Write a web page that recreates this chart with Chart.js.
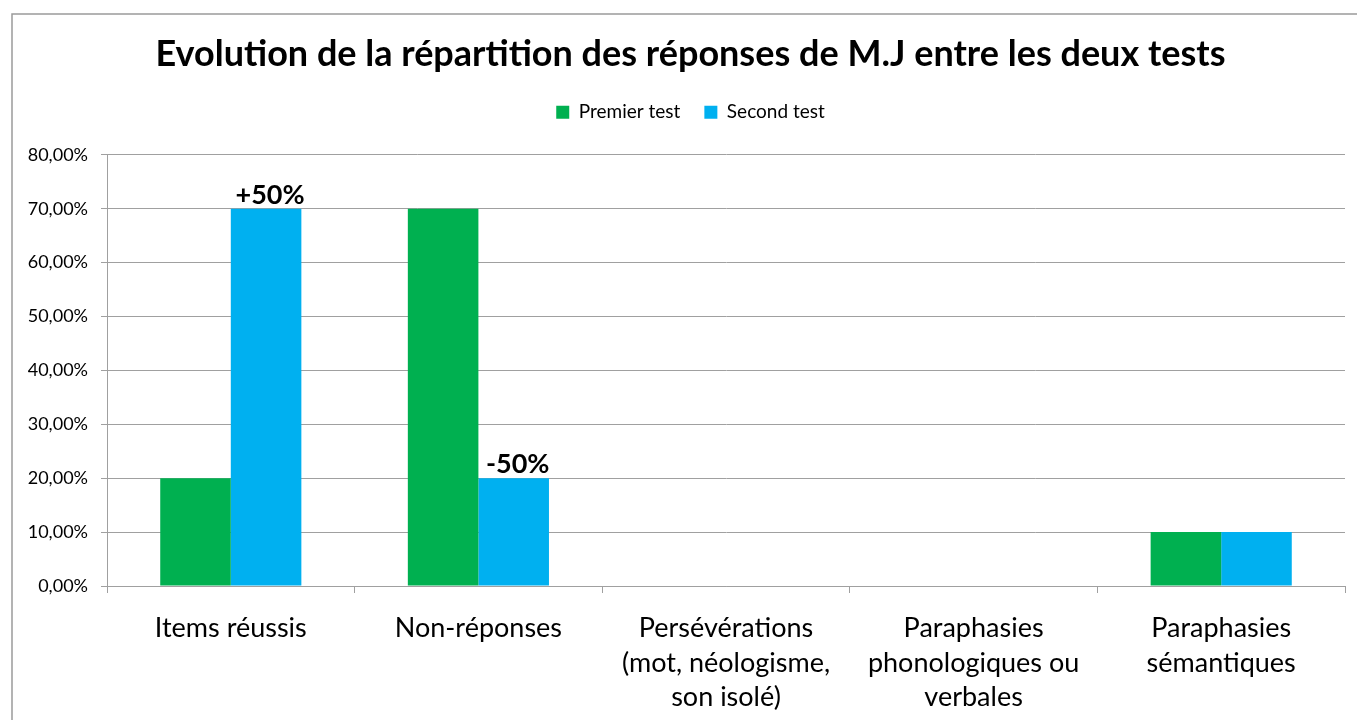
<!DOCTYPE html>
<html lang="fr">
<head>
<meta charset="utf-8">
<title>Evolution de la répartition des réponses de M.J entre les deux tests</title>
<script src="https://cdn.jsdelivr.net/npm/chart.js@4.4.1/dist/chart.umd.min.js"></script>
<style>
  html, body { margin: 0; padding: 0; background: #ffffff; overflow: hidden; }
  #wrap { width: 1357px; height: 720px; position: relative; }
</style>
</head>
<body>
<div id="wrap"><canvas id="chart" width="1357" height="720"></canvas></div>
<script>
// Response categories (multi-line labels under the axis)
const categories = [
  ["Items réussis"],
  ["Non-réponses"],
  ["Persévérations", "(mot, néologisme,", "son isolé)"],
  ["Paraphasies", "phonologiques ou", "verbales"],
  ["Paraphasies", "sémantiques"]
];

// Share of responses, in percent
const premierTest = [20, 70, 0, 0, 10];
const secondTest  = [70, 20, 0, 0, 10];

// Y axis tick values
const yTicks = [0, 10, 20, 30, 40, 50, 60, 70, 80];

const GREEN = '#00B050';
const BLUE = '#00B0F0';
const GRID = '#a0a0a0';
const FONT = 'Lato, "Open Sans", "DejaVu Sans", sans-serif';

// Change between the two tests, written above the second-test bar
const changeLabels = premierTest.map((v, i) => {
  const d = secondTest[i] - v;
  if (d === 0) return '';
  return (d > 0 ? '+' : '') + d + '%';
});

const frenchPercent = v => v.toFixed(2).replace('.', ',') + '%';

// Grey outer frame of the chart
const framePlugin = {
  id: 'frame',
  beforeDraw(chart) {
    const ctx = chart.ctx;
    ctx.save();
    ctx.fillStyle = '#ffffff';
    ctx.fillRect(0, 0, chart.width, chart.height);
    ctx.strokeStyle = '#9a9a9a';
    ctx.lineWidth = 1.5;
    ctx.strokeRect(12, 14, chart.width + 50, chart.height + 50);
    ctx.restore();
  }
};

// Difference labels on top of the second series
const changePlugin = {
  id: 'changeLabels',
  afterDatasetsDraw(chart) {
    const meta = chart.getDatasetMeta(1);
    const ctx = chart.ctx;
    ctx.save();
    ctx.font = 'bold 27px ' + FONT;
    ctx.fillStyle = '#000000';
    ctx.textAlign = 'center';
    ctx.textBaseline = 'alphabetic';
    meta.data.forEach((bar, i) => {
      const txt = changeLabels[i];
      if (!txt) return;
      ctx.fillText(txt, bar.x + 4, bar.y - 5);
    });
    ctx.restore();
  }
};

new Chart(document.getElementById('chart'), {
  type: 'bar',
  data: {
    labels: categories,
    datasets: [
      {
        label: 'Premier test',
        data: premierTest,
        xAxisID: 'x',
        yAxisID: 'y',
        backgroundColor: GREEN,
        borderWidth: 0,
        categoryPercentage: 0.57,
        barPercentage: 1.0
      },
      {
        label: 'Second test',
        data: secondTest,
        xAxisID: 'x',
        yAxisID: 'y',
        backgroundColor: BLUE,
        borderWidth: 0,
        categoryPercentage: 0.57,
        barPercentage: 1.0
      }
    ]
  },
  options: {
    responsive: false,
    animation: false,
    // the frame runs past the right edge, so the layout is laid out a little wider
    layout: { padding: { top: 14, left: 0, right: -24, bottom: 0 } },
    plugins: {
      title: {
        display: true,
        text: 'Evolution de la répartition des réponses de M.J entre les deux tests',
        color: '#000000',
        font: { family: FONT, size: 36, weight: 'bold', lineHeight: 1.2 },
        padding: { top: 18.5, bottom: 3 }
      },
      legend: {
        display: true,
        position: 'top',
        labels: {
          color: '#000000',
          font: { family: FONT, size: 19 },
          boxWidth: 13,
          boxHeight: 13,
          padding: 24
        }
      },
      tooltip: { enabled: false }
    },
    scales: {
      x: {
        grid: {
          display: true,
          offset: true,
          drawOnChartArea: false,
          drawTicks: true,
          tickLength: 7,
          color: GRID
        },
        border: { display: true, color: GRID },
        ticks: {
          color: '#000000',
          font: { family: FONT, size: 27, lineHeight: 1.28 },
          padding: 18,
          maxRotation: 0,
          autoSkip: false
        },
        afterFit(scale) { scale.height = 134; }
      },
      y: {
        min: 0,
        max: 80,
        afterBuildTicks(scale) {
          scale.ticks = yTicks.map(v => ({ value: v }));
        },
        grid: {
          color: GRID,
          tickLength: 6,
          drawTicks: true
        },
        border: { display: true, color: GRID },
        ticks: {
          color: '#000000',
          font: { family: FONT, size: 18 },
          padding: 13,
          callback: v => frenchPercent(v)
        },
        afterFit(scale) { scale.width = 107; }
      },
      // empty band between the legend and the plot area
      xTop: {
        type: 'category',
        position: 'top',
        display: true,
        grid: { display: false, drawTicks: false },
        border: { display: false },
        ticks: { display: false },
        afterFit(scale) { scale.height = 23.2; }
      },
      // empty margin right of the plot area
      yRight: {
        type: 'linear',
        position: 'right',
        display: true,
        grid: { display: false, drawTicks: false },
        border: { display: false },
        ticks: { display: false },
        afterFit(scale) { scale.width = 36; }
      }
    }
  },
  plugins: [framePlugin, changePlugin]
});
</script>
</body>
</html>
